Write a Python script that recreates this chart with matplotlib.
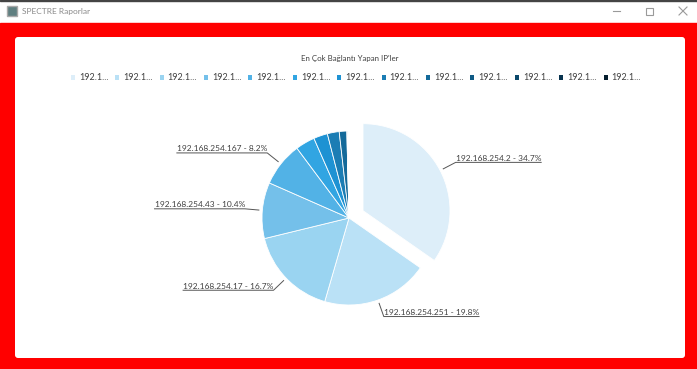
"""
SPECTRE report window with the top connecting IPs pie chart.
"""
import numpy as np
import matplotlib
matplotlib.use('Agg')
import matplotlib.pyplot as plt
from matplotlib.patches import FancyBboxPatch, Rectangle

WIDTH, HEIGHT = 697, 369

# Share of connections per IP, in percent
values = [34.7, 19.8, 16.7, 10.4, 8.2, 3.6, 2.6, 2.2, 1.4, 0.1, 0.1, 0.1, 0.1]
labelled_ips = ['192.168.254.2', '192.168.254.251', '192.168.254.17', '192.168.254.43', '192.168.254.167']
legend_labels = ['192.1...'] * 13
colors = ['#DDEEF9', '#BAE1F6', '#9AD4F1', '#74C0EA', '#52B2E6', '#31A5E2', '#1E92D3',
          '#1B7DB4', '#146A9A', '#0F5A85', '#0B486B', '#08334F', '#051E2E']
title = "En Çok Bağlantı Yapan IP'ler"
window_title = 'SPECTRE Raporlar'

plt.rcParams['font.family'] = ['Lato', 'DejaVu Sans']

fig = plt.figure(figsize=(WIDTH / 100, HEIGHT / 100), dpi=100)
ax = fig.add_axes([0, 0, 1, 1])


def flip(y):
    # The picture is measured from the top, the axes run from the bottom
    return HEIGHT - y


# Window chrome
fig.patch.set_facecolor('white')
ax.add_patch(Rectangle((0, 0), WIDTH, flip(23), color='#FF0000', zorder=0))
ax.add_patch(Rectangle((0, flip(1)), WIDTH, 1, color='#444444', zorder=0))
ax.add_patch(FancyBboxPatch((18, flip(355)), 664, 315, boxstyle='round,pad=3,rounding_size=3',
                            facecolor='white', edgecolor='none', zorder=1))
ax.add_patch(Rectangle((7, flip(16)), 10, 10, facecolor='#5F7F80', edgecolor='#A9A9A9', linewidth=1, zorder=2))
ax.text(22, flip(11.5), window_title, fontsize=6.0, color='#8A8A8A', va='center', ha='left', zorder=2)
ax.plot([613, 620], [flip(11), flip(11)], color='#9A9A9A', linewidth=0.8, zorder=2)
ax.add_patch(Rectangle((646, flip(15)), 7, 7, facecolor='none', edgecolor='#9A9A9A', linewidth=0.8, zorder=2))
ax.plot([679, 687], [flip(7), flip(15)], color='#9A9A9A', linewidth=0.8, zorder=2)
ax.plot([679, 687], [flip(15), flip(7)], color='#9A9A9A', linewidth=0.8, zorder=2)

# Pie
center = (349, flip(218))
radius = 87
explode = [15.8] + [0] * (len(values) - 1)
wedges, _ = ax.pie(values, explode=explode, colors=colors, startangle=90, counterclock=False,
                   center=center, radius=radius, frame=False,
                   wedgeprops={'edgecolor': 'white', 'linewidth': 0.6, 'zorder': 3})
ax.set_xlim(0, WIDTH)
ax.set_ylim(0, HEIGHT)
ax.set_aspect('auto')
ax.axis('off')

ax.text(349.5, flip(58), title, fontsize=5.7, color='#404040', ha='center', va='center', zorder=4)

# Legend across the top
legend = ax.legend(wedges, legend_labels, ncol=13, frameon=False, loc='center',
                   bbox_to_anchor=(356 / WIDTH, 1 - 78 / HEIGHT), fontsize=6.5, labelcolor='#404040',
                   handlelength=0.45, handleheight=0.45, handletextpad=0.45, columnspacing=0.75,
                   borderpad=0, borderaxespad=0)
for handle in legend.legend_handles:
    handle.set_edgecolor('none')

# Leader lines and labels for the five largest slices
fig.canvas.draw()
renderer = fig.canvas.get_renderer()
cum = 0.0
total = sum(values)
for i, ip in enumerate(labelled_ips):
    mid = np.deg2rad(90 - (cum + values[i] / 2) / total * 360)
    cum += values[i]
    cx, cy = wedges[i].center
    start_x, start_y = cx + 90.5 * np.cos(mid), cy + 90.5 * np.sin(mid)
    elbow_x, elbow_y = cx + 104.5 * np.cos(mid), cy + 104.5 * np.sin(mid)
    right_side = np.cos(mid) > 0
    text = ax.text(elbow_x, elbow_y + 0.5, f'{ip} - {values[i]}%', fontsize=6.05, color='#404040',
                   ha='left' if right_side else 'right', va='bottom', zorder=5)
    text_width = text.get_window_extent(renderer).width
    end_x = elbow_x + text_width if right_side else elbow_x - text_width
    ax.plot([start_x, elbow_x, end_x], [start_y, elbow_y, elbow_y], color='#555555', linewidth=0.7, zorder=4)

fig.savefig('out.png', dpi=100)
